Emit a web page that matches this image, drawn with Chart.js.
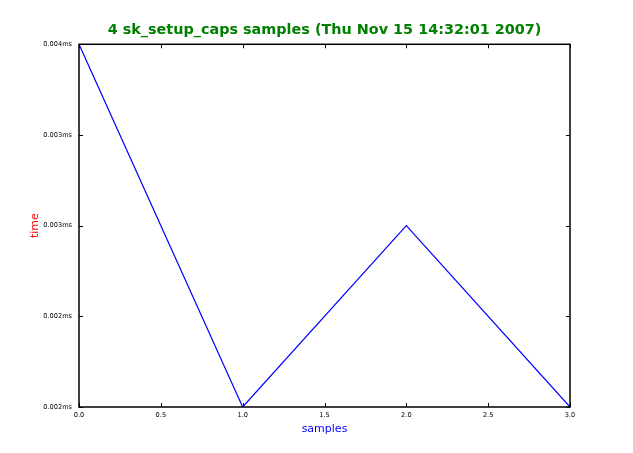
<!DOCTYPE html>
<html>
<head>
<meta charset="utf-8">
<style>
    html, body { margin: 0; padding: 0; background: #fff; }
    #myChart { display: block; }
</style>
</head>
<body>
<canvas id="myChart" width="633" height="453"></canvas>

<script src="https://cdn.jsdelivr.net/npm/chart.js"></script>

<script>

    // data
    const sampleIndex = [0, 1, 2, 3];
    const sampleTimes = [0.004, 0.002, 0.003, 0.002];

    const xTickValues = [0, 0.5, 1, 1.5, 2, 2.5, 3];
    const xTickLabels = ['0.0', '0.5', '1.0', '1.5', '2.0', '2.5', '3.0'];
    const yTickValues = [0.002, 0.0025, 0.003, 0.0035, 0.004];
    const yTickLabels = ['0.002ms', '0.002ms', '0.003ms', '0.003ms', '0.004ms'];

    const chartTitle = '4 sk_setup_caps samples (Thu Nov 15 14:32:01 2007)';

    const ctx = document.getElementById('myChart').getContext('2d');
    const tinyFont = { family: 'DejaVu Sans', size: 6.6 };

    // frame + inward tick marks, matplotlib style
    const frameTicks = {
        id: 'frameTicks',
        afterDatasetsDraw(chart) {
            const { ctx, chartArea: a, scales } = chart;
            const len = 4;
            ctx.save();
            ctx.strokeStyle = '#000';
            ctx.lineWidth = 1;
            ctx.beginPath();
            xTickValues.forEach(v => {
                const px = Math.round(scales.x.getPixelForValue(v)) + 0.5;
                ctx.moveTo(px, a.bottom); ctx.lineTo(px, a.bottom - len);
                ctx.moveTo(px, a.top); ctx.lineTo(px, a.top + len);
            });
            yTickValues.forEach(v => {
                const py = Math.round(scales.y.getPixelForValue(v)) + 0.5;
                ctx.moveTo(a.left, py); ctx.lineTo(a.left + len, py);
                ctx.moveTo(a.right, py); ctx.lineTo(a.right - len, py);
            });
            ctx.stroke();
            ctx.lineWidth = 1.5;
            ctx.strokeRect(a.left, a.top, a.right - a.left, a.bottom - a.top);
            ctx.restore();
        }
    };

    new Chart(ctx, {
        type: 'line',
        data: {
            datasets: [{
                data: sampleIndex.map((x, i) => ({ x: x, y: sampleTimes[i] })),
                borderColor: '#0000ff',
                borderWidth: 1.2,
                pointRadius: 0,
                fill: false,
                tension: 0
            }]
        },
        options: {
            responsive: false,
            animation: false,
            layout: { padding: { left: 16, right: 0, top: 0, bottom: 0 } },
            plugins: {
                legend: { display: false },
                tooltip: { enabled: false },
                title: {
                    display: true,
                    text: chartTitle,
                    color: '#008000',
                    font: { family: 'DejaVu Sans', size: 14.4, weight: 'bold' },
                    padding: { top: 22, bottom: 5 }
                }
            },
            scales: {
                x: {
                    type: 'linear',
                    min: 0,
                    max: 3,
                    afterBuildTicks: s => { s.ticks = xTickValues.map(v => ({ value: v })); },
                    afterFit: s => { s.height = 46; },
                    grid: { display: false, drawTicks: false },
                    border: { display: false },
                    ticks: {
                        font: tinyFont,
                        color: '#000',
                        padding: 4,
                        maxRotation: 0,
                        callback: (v, i) => xTickLabels[i]
                    },
                    title: {
                        display: true,
                        text: 'samples',
                        color: '#0000ff',
                        font: { family: 'DejaVu Sans', size: 11 },
                        padding: { top: 0, bottom: 17 }
                    }
                },
                y: {
                    type: 'linear',
                    min: 0.002,
                    max: 0.004,
                    afterBuildTicks: s => { s.ticks = yTickValues.map(v => ({ value: v })); },
                    afterFit: s => { s.width = 63; },
                    grid: { display: false, drawTicks: false },
                    border: { display: false },
                    ticks: {
                        font: tinyFont,
                        color: '#000',
                        padding: 7,
                        callback: (v, i) => yTickLabels[i]
                    },
                    title: {
                        display: true,
                        text: 'time',
                        color: '#ff0000',
                        font: { family: 'DejaVu Sans', size: 11 },
                        padding: { top: 13, bottom: 0 }
                    }
                },
                yRight: {
                    type: 'linear',
                    position: 'right',
                    min: 0.002,
                    max: 0.004,
                    afterFit: s => { s.width = 63; },
                    grid: { display: false, drawTicks: false },
                    border: { display: false },
                    ticks: { display: false }
                }
            }
        },
        plugins: [frameTicks]
    });

</script>
</body>
</html>
